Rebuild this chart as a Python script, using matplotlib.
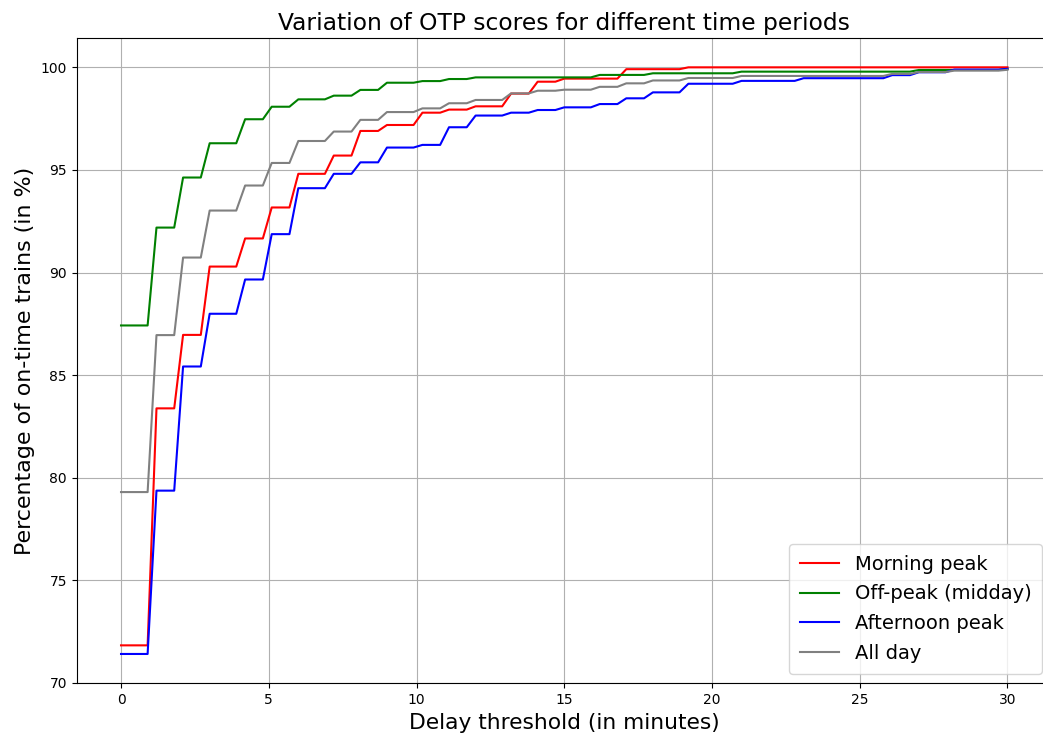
import numpy as np
import matplotlib
matplotlib.use("Agg")
import matplotlib.pyplot as plt

# Share of trains arriving within each whole-minute delay threshold (in %)
minutes = list(range(31))

morning_peak = [71.83, 83.38, 86.96, 90.29, 91.66, 93.17, 94.81, 95.70, 96.90, 97.19,
                97.79, 97.94, 98.10, 98.72, 99.30, 99.45, 99.45, 99.91, 99.91, 100.0,
                100.0, 100.0, 100.0, 100.0, 100.0, 100.0, 100.0, 100.0, 100.0, 100.0,
                100.0]
off_peak = [87.42, 92.19, 94.63, 96.30, 97.47, 98.08, 98.44, 98.62, 98.90, 99.25,
            99.33, 99.43, 99.51, 99.51, 99.51, 99.51, 99.63, 99.63, 99.71, 99.71,
            99.71, 99.79, 99.79, 99.79, 99.79, 99.79, 99.79, 99.87, 99.87, 99.87,
            99.92]
afternoon_peak = [71.41, 79.37, 85.42, 87.99, 89.66, 91.87, 94.11, 94.81, 95.37, 96.09,
                  96.22, 97.08, 97.65, 97.79, 97.92, 98.05, 98.21, 98.49, 98.78, 99.20,
                  99.20, 99.34, 99.34, 99.47, 99.47, 99.47, 99.62, 99.76, 99.89, 99.89,
                  99.93]
all_day = [79.30, 86.95, 90.73, 93.02, 94.24, 95.34, 96.41, 96.87, 97.44, 97.82,
           98.00, 98.25, 98.41, 98.73, 98.86, 98.91, 99.05, 99.22, 99.36, 99.48,
           99.48, 99.58, 99.58, 99.58, 99.58, 99.58, 99.68, 99.77, 99.84, 99.84,
           99.88]

series = [
    ("Morning peak", morning_peak, "red"),
    ("Off-peak (midday)", off_peak, "green"),
    ("Afternoon peak", afternoon_peak, "blue"),
    ("All day", all_day, "gray"),
]

# Thresholds evaluated on a 0.3-minute grid; each sample takes the score of
# the last whole minute reached.
thresholds = np.linspace(0, 30, 101)
minute_index = np.floor(np.round(thresholds, 6)).astype(int)

fig = plt.figure(figsize=(10.43, 7.36), dpi=100)
ax = fig.add_axes([76.7 / 1043, 1 - 683.3 / 736, 975.1 / 1043, 645.3 / 736])

for label, values, color in series:
    y = np.asarray(values)[minute_index]
    ax.plot(thresholds, y, color=color, label=label)

ax.set_title("Variation of OTP scores for different time periods", fontsize=16.8)
ax.set_xlabel("Delay threshold (in minutes)", fontsize=15.7)
ax.set_ylabel("Percentage of on-time trains (in %)", fontsize=15.9)
ax.grid(True)
ax.legend(loc="lower right", fontsize=14, borderpad=0.55, labelspacing=0.55)

fig.savefig("out.png", dpi=100)
